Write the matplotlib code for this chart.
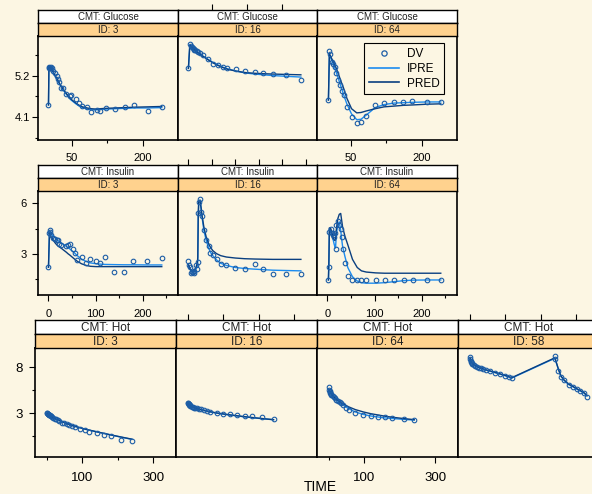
import matplotlib
matplotlib.use("Agg")
import matplotlib.pyplot as plt
from matplotlib.lines import Line2D

plt.rcParams['font.family'] = ['Liberation Sans', 'DejaVu Sans']

W, H = 592, 494
BG = '#FCF6E3'
STRIP1 = '#FFFFFF'
STRIP2 = '#FFD28E'
C_DV = '#1C5DA6'
C_IPRE = '#1C8CF0'
C_PRED = '#0A3F80'

# ---------------- data: Glucose ----------------
glu3_t = [0, 1, 2, 3, 4, 5, 7, 10, 13, 17, 20, 23, 27, 31, 38, 45, 48, 58, 64, 72, 82, 91, 102, 109, 122, 141, 162, 181, 211, 240]
glu3_dv = [4.42, 5.40, 5.42, 5.41, 5.40, 5.43, 5.39, 5.33, 5.27, 5.20, 5.12, 5.04, 4.87, 4.86, 4.72, 4.65, 4.68, 4.57, 4.46, 4.40, 4.37, 4.22, 4.29, 4.27, 4.35, 4.31, 4.36, 4.41, 4.26, 4.36]
glu3_ipre = [4.42, 5.44, 5.43, 5.42, 5.40, 5.38, 5.34, 5.28, 5.21, 5.12, 5.05, 4.98, 4.90, 4.82, 4.70, 4.59, 4.55, 4.45, 4.40, 4.35, 4.31, 4.29, 4.29, 4.30, 4.31, 4.32, 4.33, 4.34, 4.34, 4.35]
glu3_pred = [4.42, 5.46, 5.45, 5.44, 5.42, 5.40, 5.36, 5.30, 5.23, 5.14, 5.07, 5.00, 4.92, 4.84, 4.72, 4.61, 4.57, 4.47, 4.42, 4.37, 4.34, 4.32, 4.31, 4.32, 4.33, 4.34, 4.35, 4.36, 4.37, 4.38]

glu16_t = [0, 3, 5, 7, 9, 11, 13, 15, 18, 21, 25, 31, 42, 52, 63, 74, 83, 101, 121, 142, 160, 180, 209, 240]
glu16_dv = [5.39, 6.05, 5.98, 5.95, 5.93, 5.91, 5.89, 5.87, 5.85, 5.83, 5.79, 5.74, 5.63, 5.52, 5.48, 5.43, 5.40, 5.37, 5.33, 5.30, 5.28, 5.24, 5.21, 5.08]
glu16_ipre = [5.39, 6.02, 5.99, 5.96, 5.93, 5.91, 5.89, 5.87, 5.84, 5.81, 5.77, 5.72, 5.63, 5.55, 5.48, 5.42, 5.38, 5.32, 5.27, 5.24, 5.22, 5.20, 5.18, 5.16]
glu16_pred = [5.39, 6.00, 5.97, 5.95, 5.92, 5.90, 5.88, 5.86, 5.83, 5.80, 5.76, 5.71, 5.62, 5.54, 5.47, 5.41, 5.37, 5.32, 5.28, 5.26, 5.25, 5.24, 5.23, 5.22]

glu64_t = [2, 4, 5, 9, 12, 16, 19, 23, 26, 30, 34, 41, 51, 62, 71, 82, 101, 120, 141, 161, 180, 211, 240]
glu64_dv = [4.55, 5.86, 5.78, 5.57, 5.50, 5.43, 5.26, 5.08, 4.95, 4.80, 4.68, 4.37, 4.11, 3.95, 3.98, 4.13, 4.41, 4.47, 4.50, 4.50, 4.53, 4.50, 4.50]
glu64_ipre = [4.55, 5.75, 5.72, 5.60, 5.50, 5.38, 5.27, 5.12, 5.00, 4.85, 4.70, 4.45, 4.18, 4.03, 4.04, 4.15, 4.35, 4.43, 4.47, 4.48, 4.49, 4.50, 4.50]
glu64_pred = [4.55, 5.78, 5.75, 5.65, 5.57, 5.47, 5.38, 5.25, 5.14, 5.00, 4.87, 4.60, 4.32, 4.21, 4.22, 4.26, 4.32, 4.37, 4.39, 4.41, 4.42, 4.44, 4.45]

# ---------------- data: Insulin ----------------
ins3_t = [0, 2, 3, 4, 6, 10, 14, 17, 20, 23, 27, 38, 42, 45, 53, 56, 61, 70, 80, 89, 101, 109, 120, 139, 160, 180, 209, 240]
ins3_dv = [2.21, 4.22, 4.40, 4.30, 4.12, 3.93, 3.90, 3.84, 3.80, 3.57, 3.55, 3.47, 3.53, 3.57, 3.30, 3.08, 2.64, 2.84, 2.45, 2.68, 2.58, 2.45, 2.84, 1.92, 1.92, 2.58, 2.58, 2.74]
ins3_ipre = [2.21, 4.30, 4.28, 4.25, 4.18, 4.05, 3.95, 3.88, 3.80, 3.73, 3.65, 3.45, 3.37, 3.30, 3.12, 3.04, 2.90, 2.70, 2.55, 2.47, 2.42, 2.40, 2.38, 2.37, 2.36, 2.36, 2.35, 2.35]
ins3_pred = [2.21, 4.20, 4.15, 4.10, 4.00, 3.82, 3.66, 3.56, 3.48, 3.42, 3.34, 3.10, 3.00, 2.94, 2.75, 2.68, 2.57, 2.42, 2.32, 2.27, 2.25, 2.25, 2.25, 2.25, 2.25, 2.25, 2.25, 2.25]

ins16_t = [0, 1, 3, 5, 7, 9, 11, 13, 16, 19, 20, 21, 22, 25, 27, 29, 33, 38, 44, 47, 52, 60, 69, 81, 100, 120, 142, 160, 180, 208, 240]
ins16_dv = [2.58, 2.34, 2.25, 1.89, 1.95, 1.92, 1.90, 1.97, 2.35, 2.10, 2.55, 5.40, 6.10, 6.24, 5.50, 5.25, 4.42, 3.83, 3.47, 3.08, 2.94, 2.68, 2.39, 2.35, 2.15, 2.11, 2.43, 2.11, 1.81, 1.81, 1.81]
ins16_ipre = [2.35, 2.30, 2.15, 2.02, 1.98, 1.96, 1.97, 2.00, 2.10, 2.30, 2.60, 5.20, 6.05, 6.20, 5.70, 5.20, 4.40, 3.80, 3.30, 3.10, 2.90, 2.65, 2.45, 2.32, 2.20, 2.14, 2.10, 2.07, 2.04, 2.02, 2.00]
ins16_pred = [2.35, 2.30, 2.15, 2.05, 2.02, 2.00, 2.01, 2.05, 2.20, 2.45, 2.80, 5.30, 6.10, 6.15, 5.75, 5.30, 4.60, 4.00, 3.55, 3.40, 3.20, 3.02, 2.90, 2.82, 2.76, 2.72, 2.70, 2.69, 2.68, 2.68, 2.68]

ins64_t = [2, 3, 4, 7, 9, 12, 14, 16, 17, 19, 22, 25, 28, 30, 32, 37, 43, 53, 63, 72, 82, 102, 121, 141, 162, 181, 210, 240]
ins64_dv = [1.46, 2.21, 4.32, 4.50, 4.25, 4.10, 4.00, 4.25, 3.28, 4.72, 4.95, 4.72, 4.50, 3.99, 3.28, 2.49, 1.72, 1.46, 1.46, 1.46, 1.46, 1.46, 1.46, 1.46, 1.46, 1.46, 1.46, 1.46]
ins64_ipre = [1.46, 2.50, 4.50, 4.40, 4.15, 3.85, 3.60, 3.40, 3.35, 4.20, 4.75, 4.90, 4.40, 3.90, 3.45, 2.85, 2.20, 1.65, 1.40, 1.30, 1.27, 1.27, 1.30, 1.36, 1.42, 1.45, 1.46, 1.46]
ins64_pred = [1.46, 2.60, 4.55, 4.50, 4.30, 4.00, 3.85, 3.80, 3.90, 4.50, 5.10, 5.35, 5.40, 5.00, 4.60, 4.05, 3.55, 2.68, 2.20, 2.00, 1.93, 1.88, 1.86, 1.86, 1.86, 1.86, 1.86, 1.86]

# ---------------- data: Hot ----------------
hot3_t = [0, 1, 2, 3, 4, 5, 6, 8, 10, 12, 15, 18, 22, 26, 30, 35, 42, 49, 56, 63, 70, 79, 93, 107, 119, 141, 161, 180, 209, 240]
hot3_dv = [2.97, 2.95, 2.92, 2.88, 2.85, 2.82, 2.80, 2.75, 2.70, 2.65, 2.55, 2.45, 2.38, 2.30, 2.22, 2.12, 1.95, 1.88, 1.77, 1.70, 1.59, 1.47, 1.23, 1.15, 0.97, 0.86, 0.61, 0.50, 0.07, 0.00]
hot3_ipre = [2.95, 2.93, 2.90, 2.87, 2.84, 2.81, 2.78, 2.73, 2.68, 2.63, 2.56, 2.48, 2.40, 2.32, 2.25, 2.16, 2.05, 1.94, 1.84, 1.74, 1.65, 1.55, 1.40, 1.25, 1.14, 0.95, 0.78, 0.62, 0.38, 0.14]
hot3_pred = [2.97, 2.95, 2.92, 2.89, 2.86, 2.83, 2.80, 2.75, 2.70, 2.65, 2.58, 2.50, 2.42, 2.34, 2.27, 2.18, 2.07, 1.96, 1.86, 1.76, 1.67, 1.56, 1.41, 1.26, 1.15, 0.96, 0.79, 0.63, 0.40, 0.16]

hot16_t = [0, 1, 2, 3, 4, 5, 7, 10, 13, 17, 21, 25, 30, 36, 44, 53, 62, 81, 100, 119, 140, 161, 180, 210, 242]
hot16_dv = [4.12, 4.05, 3.98, 3.93, 3.88, 3.84, 3.78, 3.69, 3.64, 3.58, 3.54, 3.51, 3.46, 3.40, 3.33, 3.24, 3.14, 2.97, 2.89, 2.86, 2.78, 2.71, 2.67, 2.53, 2.38]
hot16_ipre = [4.10, 4.03, 3.97, 3.92, 3.87, 3.83, 3.76, 3.68, 3.62, 3.56, 3.51, 3.47, 3.42, 3.36, 3.29, 3.21, 3.13, 2.99, 2.88, 2.78, 2.68, 2.58, 2.50, 2.38, 2.27]
hot16_pred = [4.12, 4.05, 3.99, 3.94, 3.89, 3.85, 3.78, 3.70, 3.64, 3.58, 3.53, 3.49, 3.44, 3.38, 3.31, 3.23, 3.15, 3.01, 2.90, 2.80, 2.70, 2.60, 2.52, 2.40, 2.28]

hot64_t = [0, 1, 2, 3, 4, 5, 7, 10, 13, 17, 21, 25, 30, 35, 40, 48, 57, 74, 97, 118, 140, 159, 178, 211, 241]
hot64_dv = [5.79, 5.55, 5.40, 5.30, 5.20, 5.12, 5.00, 4.85, 4.72, 4.58, 4.45, 4.32, 4.18, 4.05, 3.87, 3.55, 3.33, 2.97, 2.78, 2.67, 2.60, 2.53, 2.49, 2.35, 2.24]
hot64_ipre = [5.45, 5.40, 5.35, 5.30, 5.22, 5.15, 5.02, 4.86, 4.72, 4.56, 4.42, 4.28, 4.12, 3.98, 3.85, 3.65, 3.45, 3.12, 2.85, 2.68, 2.56, 2.47, 2.41, 2.31, 2.23]
hot64_pred = [5.50, 5.44, 5.38, 5.32, 5.25, 5.18, 5.06, 4.90, 4.77, 4.62, 4.49, 4.37, 4.23, 4.10, 3.99, 3.82, 3.65, 3.38, 3.12, 2.93, 2.78, 2.65, 2.55, 2.40, 2.28]

hot58_t = [0, 1, 2, 3, 5, 7, 10, 14, 19, 25, 31, 38, 45, 57, 71, 85, 99, 109, 118, 240, 241, 250, 257, 266, 279, 291, 302, 312, 323, 331]
hot58_dv = [9.05, 8.85, 8.70, 8.60, 8.45, 8.35, 8.25, 8.12, 8.03, 7.95, 7.85, 7.75, 7.68, 7.57, 7.38, 7.24, 7.05, 6.88, 6.77, 9.23, 8.84, 7.60, 6.95, 6.59, 6.04, 5.86, 5.58, 5.42, 5.14, 4.77]
hot58_ipre = [8.95, 8.80, 8.68, 8.58, 8.45, 8.35, 8.24, 8.12, 8.02, 7.93, 7.84, 7.74, 7.66, 7.54, 7.38, 7.22, 7.06, 6.92, 6.80, 8.95, 8.85, 7.75, 7.00, 6.55, 6.10, 5.85, 5.60, 5.40, 5.15, 4.85]
hot58_pred = [9.00, 8.85, 8.72, 8.62, 8.49, 8.39, 8.28, 8.16, 8.06, 7.97, 7.88, 7.78, 7.70, 7.58, 7.42, 7.26, 7.10, 6.96, 6.84, 9.00, 8.90, 7.80, 7.05, 6.60, 6.15, 5.90, 5.65, 5.45, 5.20, 4.90]

cmt_labels = ['Glucose', 'Insulin', 'Hot']
id_top = ['3', '16', '64']
id_bottom = ['3', '16', '64', '58']

fig = plt.figure(figsize=(W / 100, H / 100), dpi=100, facecolor=BG)


def frac(x0, y0, x1, y1):
    return [x0 / W, 1 - y1 / H, (x1 - x0) / W, (y1 - y0) / H]


rows = [
    dict(cmt=cmt_labels[0], ids=id_top, xedges=[38, 178, 317, 457], s0=10, s1=23, p0=36, p1=140,
         xlim=(-22.2, 274.4), ylim=(3.49, 6.25),
         xmaj=[50, 200], xmin=[125], ymaj=[4.1, 5.2], ymin=[3.55, 4.65, 5.75],
         fs_tick=8, fs_strip=7, xpad=5.5, ypad=1.5,
         series=[(glu3_t, glu3_dv, glu3_ipre, glu3_pred),
                 (glu16_t, glu16_dv, glu16_ipre, glu16_pred),
                 (glu64_t, glu64_dv, glu64_ipre, glu64_pred)]),
    dict(cmt=cmt_labels[1], ids=id_top, xedges=[38, 178, 317, 457], s0=165, s1=178, p0=191, p1=295,
         xlim=(-22.2, 274.4), ylim=(0.57, 6.73),
         xmaj=[0, 100, 200], xmin=[50, 150, 250], ymaj=[3, 6], ymin=[1.5, 4.5],
         fs_tick=8, fs_strip=7, xpad=6, ypad=4,
         series=[(ins3_t, ins3_dv, ins3_ipre, ins3_pred),
                 (ins16_t, ins16_dv, ins16_ipre, ins16_pred),
                 (ins64_t, ins64_dv, ins64_ipre, ins64_pred)]),
    dict(cmt=cmt_labels[2], ids=id_bottom, xedges=[35, 176, 317, 458, 599], s0=320, s1=334, p0=348, p1=457,
         xlim=(-34, 365), ylim=(-1.78, 10.07),
         xmaj=[100, 300], xmin=[0, 200], ymaj=[3, 8], ymin=[0.5, 5.5],
         fs_tick=9.5, fs_strip=8.5, xpad=7, ypad=4.5,
         series=[(hot3_t, hot3_dv, hot3_ipre, hot3_pred),
                 (hot16_t, hot16_dv, hot16_ipre, hot16_pred),
                 (hot64_t, hot64_dv, hot64_ipre, hot64_pred),
                 (hot58_t, hot58_dv, hot58_ipre, hot58_pred)]),
]

legend_ax = None
for r, row in enumerate(rows):
    xe = row['xedges']
    for i, (t, dv, ipre, pred) in enumerate(row['series']):
        x0, x1 = xe[i], xe[i + 1]
        ax = fig.add_axes(frac(x0, row['p0'], x1, row['p1']))
        ax.set_facecolor(BG)
        ax.plot(t, ipre, color=C_IPRE, lw=1.0, label='IPRE')
        ax.plot(t, pred, color=C_PRED, lw=1.0, label='PRED')
        ax.plot(t, dv, linestyle='none', marker='o', mfc='none', mec=C_DV,
                ms=3.3, mew=0.8, label='DV')
        ax.set_xlim(*row['xlim'])
        ax.set_ylim(*row['ylim'])
        for sp in ax.spines.values():
            sp.set_linewidth(1.2)
            sp.set_color('black')
        ax.tick_params(which='both', direction='out', width=0.8, colors='black')
        ax.tick_params(which='major', length=4)
        ax.tick_params(which='minor', length=2.5)
        if i == 0:
            ax.set_yticks(row['ymaj'])
            ax.set_yticks(row['ymin'], minor=True)
            ax.set_yticklabels([str(v) for v in row['ymaj']], fontsize=row['fs_tick'])
            ax.tick_params(axis='y', pad=row['ypad'])
        else:
            ax.set_yticks([])
            ax.set_yticks([], minor=True)
        if i % 2 == 0:
            ax.set_xticks(row['xmaj'])
            ax.set_xticks(row['xmin'], minor=True)
            ax.set_xticklabels([str(v) for v in row['xmaj']], fontsize=row['fs_tick'])
            ax.tick_params(axis='x', pad=row['xpad'])
        else:
            ax.set_xticks([])
            ax.set_xticks([], minor=True)
            # top ticks above the strips
            axt = fig.add_axes(frac(x0, row['s0'], x1, row['p1']))
            axt.patch.set_visible(False)
            for sp in axt.spines.values():
                sp.set_visible(False)
            axt.set_xlim(*row['xlim'])
            axt.set_yticks([])
            axt.xaxis.tick_top()
            axt.set_xticks(row['xmaj'] + row['xmin'])
            axt.set_xticklabels([])
            axt.tick_params(axis='x', direction='out', length=4, width=0.8)
        # strips
        for (ya, yb, col, txt) in [(row['s0'], row['s1'], STRIP1, 'CMT: ' + row['cmt']),
                                   (row['s1'], row['p0'], STRIP2, 'ID: ' + row['ids'][i])]:
            sa = fig.add_axes(frac(x0, ya, x1, yb))
            sa.set_facecolor(col)
            sa.set_xticks([])
            sa.set_yticks([])
            for sp in sa.spines.values():
                sp.set_linewidth(1.0)
                sp.set_color('black')
            sa.text(0.5, 0.45, txt, ha='center', va='center', fontsize=row['fs_strip'],
                    transform=sa.transAxes, color='#222222')
        if r == 0 and i == 2:
            legend_ax = ax

handles = [Line2D([], [], linestyle='none', marker='o', mfc='none', mec=C_DV, ms=3.8, mew=0.9),
           Line2D([], [], color=C_IPRE, lw=1.2),
           Line2D([], [], color=C_PRED, lw=1.2)]
leg = legend_ax.legend(handles, ['DV', 'IPRE', 'PRED'], loc='upper right',
                       bbox_to_anchor=(444 / W, 1 - 43 / H), bbox_transform=fig.transFigure,
                       fontsize=8.5, frameon=True, fancybox=False, framealpha=1,
                       handlelength=2.6, handletextpad=0.6, labelspacing=0.25,
                       borderpad=0.4, borderaxespad=0)
leg.get_frame().set_edgecolor('black')
leg.get_frame().set_facecolor(BG)
leg.get_frame().set_linewidth(0.8)

fig.text(320 / W, 1 - 487 / H, 'TIME', ha='center', va='center', fontsize=10)

fig.savefig('out.png', dpi=100, facecolor=BG)
